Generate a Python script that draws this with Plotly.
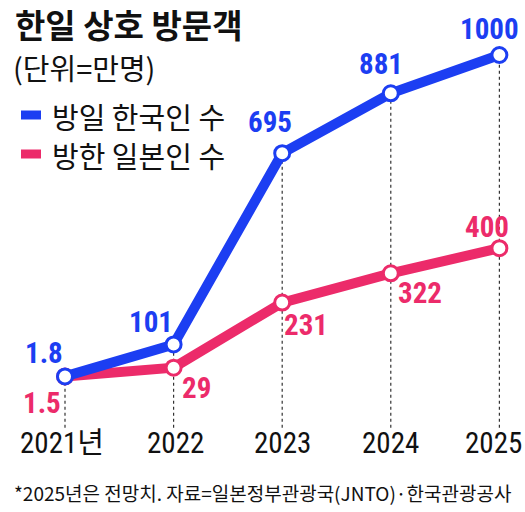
import plotly.graph_objects as go

years = [2021, 2022, 2023, 2024, 2025]
korean_to_japan = [1.8, 101, 695, 881, 1000]
japanese_to_korea = [1.5, 29, 231, 322, 400]
year_labels = ["2021년", "2022", "2023", "2024", "2025"]
blue_labels = ["1.8", "101", "695", "881", "1000"]
pink_labels = ["1.5", "29", "231", "322", "400"]

BLUE = "#1c3ef2"
PINK = "#ec2b6a"
NUM_FONT = "Roboto Condensed, Noto Sans CJK KR, sans-serif"
KR_FONT = "Noto Sans CJK KR, sans-serif"

fig = go.Figure()

# dashed guides
for yr, b, p in zip(years, korean_to_japan, japanese_to_korea):
    fig.add_shape(type="line", x0=yr, x1=yr, y0=-158, y1=max(b, p), xref="x", yref="y",
                  line=dict(color="#333333", width=1.2, dash="3px,3px"), layer="below")

fig.add_trace(go.Scatter(x=years, y=japanese_to_korea, mode="lines+markers", name="방한 일본인 수",
                         line=dict(color=PINK, width=10),
                         marker=dict(size=15, color="white", line=dict(color=PINK, width=3))))
fig.add_trace(go.Scatter(x=years, y=korean_to_japan, mode="lines+markers", name="방일 한국인 수",
                         line=dict(color=BLUE, width=10),
                         marker=dict(size=15, color="white", line=dict(color=BLUE, width=3))))

blue_shift = [(-21, 23), (-23, 22), (-12, 31), (-10, 29), (-10, 26)]
pink_shift = [(-23, -26), (23, -20), (24, -22), (29, -20), (-12, 21)]
for yr, v, t, (dx, dy) in zip(years, korean_to_japan, blue_labels, blue_shift):
    fig.add_annotation(x=yr, y=v, text=t, showarrow=False, xshift=dx, yshift=dy,
                       yanchor="middle", xanchor="center",
                       font=dict(family=NUM_FONT, size=29, color=BLUE, weight="bold"))
for yr, v, t, (dx, dy) in zip(years, japanese_to_korea, pink_labels, pink_shift):
    fig.add_annotation(x=yr, y=v, text=t, showarrow=False, xshift=dx, yshift=dy,
                       yanchor="middle", xanchor="center",
                       font=dict(family=NUM_FONT, size=29, color=PINK, weight="bold"))

tick_shift = [-3, 2, 0, 0, -6]
for yr, t, dx in zip(years, year_labels, tick_shift):
    fig.add_annotation(x=yr, y=1 - 443 / 512, yref="paper", text=t, showarrow=False, xshift=dx,
                       yanchor="middle", xanchor="center",
                       font=dict(family=NUM_FONT, size=29, color="#111111"))

# title, subtitle, legend
fig.add_annotation(x=13 / 525, y=1 - 24 / 512, xref="paper", yref="paper", text="<b>한일 상호 방문객</b>",
                   showarrow=False, xanchor="left", yanchor="middle",
                   font=dict(family=KR_FONT, size=33, color="#111111"))
fig.add_annotation(x=11 / 525, y=1 - 67 / 512, xref="paper", yref="paper", text="(단위=만명)",
                   showarrow=False, xanchor="left", yanchor="middle",
                   font=dict(family=KR_FONT, size=29, color="#111111"))
for i, (name, col) in enumerate([("방일 한국인 수", BLUE), ("방한 일본인 수", PINK)]):
    yp = 115 + i * 39
    fig.add_shape(type="line", xref="paper", yref="paper", x0=21 / 525, x1=41 / 525,
                  y0=1 - yp / 512, y1=1 - yp / 512, line=dict(color=col, width=9))
    fig.add_annotation(x=50 / 525, y=1 - (yp + 1) / 512, xref="paper", yref="paper", text=name,
                       showarrow=False, xanchor="left", yanchor="middle",
                       font=dict(family=KR_FONT, size=29, color="#111111"))

fig.add_annotation(x=12 / 525, y=1 - 492 / 512, xref="paper", yref="paper",
                   text="*2025년은 전망치. 자료=일본정부관광국(JNTO)·한국관광공사",
                   showarrow=False, xanchor="left", yanchor="middle",
                   font=dict(family=KR_FONT, size=19, color="#111111"))

fig.update_layout(
    width=525, height=512, margin=dict(l=0, r=0, t=0, b=0),
    paper_bgcolor="white", plot_bgcolor="white", showlegend=False,
    xaxis=dict(range=[2020.4015, 2025.2358], visible=False, fixedrange=True),
    yaxis=dict(range=[-419.3, 1170.8], visible=False, fixedrange=True),
)
fig.write_html("out.html", config={"displayModeBar": False})
